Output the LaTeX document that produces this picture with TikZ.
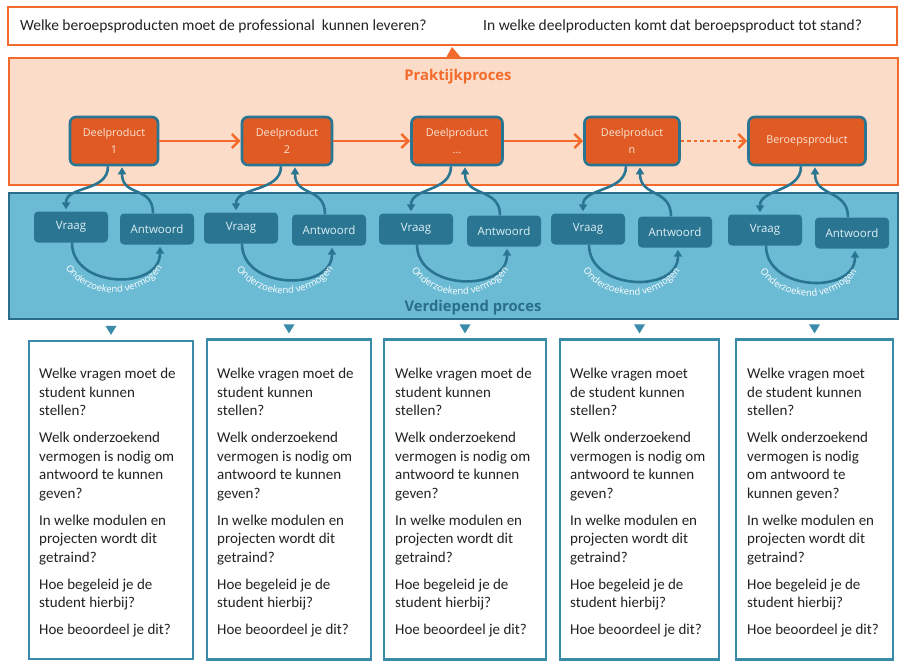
\documentclass[tikz,border=0pt]{standalone}
\usepackage{fontspec}
\setmainfont{Carlito}
\newfontfamily\osans{Open Sans}
\usetikzlibrary{arrows.meta,decorations.text,calc}
\definecolor{orgline}{HTML}{F26B2C}
\definecolor{peach}{HTML}{FBDCC9}
\definecolor{dpfill}{HTML}{E05B24}
\definecolor{tealdk}{HTML}{2A7592}
\definecolor{bandfill}{HTML}{6CBBD5}
\definecolor{bandline}{HTML}{2B6E89}
\definecolor{boxline}{HTML}{3A8BAA}
\definecolor{pale}{HTML}{FBE3D5}
\definecolor{palebl}{HTML}{DDF0F6}
\definecolor{txt}{HTML}{222222}
\newcommand\qsA{Welke vragen moet de\\student kunnen\\stellen?}
\newcommand\qsAb{Welke vragen moet\\de student kunnen\\stellen?}
\newcommand\qsB{Welk onderzoekend\\vermogen is nodig om\\antwoord te kunnen\\geven?}
\newcommand\qsBb{Welk onderzoekend\\vermogen is nodig\\om antwoord te\\kunnen geven?}
\newcommand\qsC{In welke modulen en\\projecten wordt dit\\getraind?\\[8.5pt]Hoe begeleid je de\\student hierbij?\\[8.5pt]Hoe beoordeel je dit?}
\begin{document}
\begin{tikzpicture}[x=1pt,y=1pt,
  topbox/.style={draw=orgline, line width=2pt, fill=white, minimum width=889pt, minimum height=38pt, inner sep=0},
  toptext/.style={font=\fontsize{15.5}{17}\selectfont, text=txt, inner sep=0},
  prakbox/.style={draw=orgline, line width=2pt, fill=peach, minimum width=889pt, minimum height=127pt, inner sep=0},
  bandbox/.style={draw=bandline, line width=2pt, fill=bandfill, minimum width=889pt, minimum height=126pt, inner sep=0},
  title/.style={font=\osans\bfseries\fontsize{14.8}{16}\selectfont, inner sep=0},
  dp/.style={draw=tealdk, line width=2.6pt, fill=dpfill, rounded corners=6pt, minimum height=48pt, text=pale, font=\osans\fontsize{10.8}{17.5}\selectfont, align=center, inner sep=0},
  qa/.style={fill=tealdk, rounded corners=4pt, minimum width=74pt, minimum height=31pt, text=palebl, font=\osans\fontsize{11.5}{13}\selectfont, inner sep=0},
  oarrow/.style={draw=orgline, line width=2.6pt, -{Straight Barb[length=7pt,width=14pt]}},
  lp/.style={draw=tealdk, line width=2.6pt, -{Triangle[length=7pt,width=8pt]}},
  qbox/.style={draw=boxline, line width=2.2pt, fill=white, inner sep=0},
  qtext/.style={anchor=north west, align=left, font=\fontsize{15}{18.5}\selectfont, text=txt, inner sep=0}
]
\useasboundingbox (0,0) rectangle (902,-661);
\fill[white] (0,0) rectangle (902,-661);
% top question bar
\node[topbox] (top) at (452,-26) {};
\node[toptext, anchor=west] (tq1) at (20,-26) {Welke beroepsproducten moet de professional\ \ kunnen leveren?};
\node[toptext, anchor=west] (tq2) at (483,-26) {In welke deelproducten komt dat beroepsproduct tot stand?};
% praktijkproces
\node[prakbox] (prak) at (453.5,-121.5) {};
\fill[orgline] ([xshift=-7pt]prak.north) -- ([xshift=7pt]prak.north) -- ([yshift=-1pt]top.south) -- cycle;
\node[title, text=orgline] (ptitle) at (458,-77) {Praktijkproces};
% verdiepend proces
\node[bandbox] (band) at (453.5,-256) {};
\node[title, text=bandline] (vtitle) at (473,-308) {Verdiepend proces};
% deelproducten
\node[dp, minimum width=88pt] (D1) at (114,-141) {Deelproduct\\1};
\node[dp, minimum width=90pt] (D2) at (287,-141) {Deelproduct\\2};
\node[dp, minimum width=91pt] (D3) at (457,-141) {Deelproduct\\\dots};
\node[dp, minimum width=95pt] (D4) at (632,-141) {Deelproduct\\n};
\node[dp, minimum width=117pt] (D5) at (807,-141) {Beroepsproduct};
\draw[oarrow] (D1.east) -- (D2.west);
\draw[oarrow] (D2.east) -- (D3.west);
\draw[oarrow] (D3.east) -- (D4.west);
\draw[oarrow, dash pattern=on 3.5pt off 3pt] (D4.east) -- (D5.west);
% vraag / antwoord
\node[qa] (V1) at (71,-227) {Vraag};
\node[qa] (A1) at (157,-229) {Antwoord};
\node[qa] (V2) at (241,-228) {Vraag};
\node[qa] (A2) at (329,-230) {Antwoord};
\node[qa] (V3) at (416,-229) {Vraag};
\node[qa] (A3) at (504,-231) {Antwoord};
\node[qa] (V4) at (588,-229) {Vraag};
\node[qa] (A4) at (675,-232) {Antwoord};
\node[qa] (V5) at (765,-230) {Vraag};
\node[qa] (A5) at (852,-233) {Antwoord};
\foreach \i in {1,...,5}{
  \draw[lp] ([xshift=-6pt]D\i.south) .. controls +(0,-26) and +(0,24) .. ([xshift=-5pt,yshift=2pt]V\i.north);
  \draw[lp] ([xshift=-4pt]A\i.north) .. controls +(0,28) and +(0,-30) .. ([xshift=8pt,yshift=-1pt]D\i.south);
  \draw[lp] ([xshift=1pt]V\i.south) .. controls +(0,-46) and +(0,-44) .. ([xshift=3pt,yshift=-2pt]A\i.south);
  \coordinate (C\i) at ($(V\i.south)!0.5!(A\i.south)+(0,3)$);
  \path[decorate, decoration={text along path, text align=center,
      text={|\osans\fontsize{9.5}{10}\selectfont\color{white}|Onderzoekend vermogen}}]
    ([shift={(195:57 and 52)}]C\i) arc[start angle=195, end angle=345, x radius=57, y radius=52];
}
% question boxes
\node[qbox, minimum width=164pt, minimum height=318pt] (Q1) at (111,-500) {};
\node[qbox, minimum width=164pt, minimum height=320pt] (Q2) at (289,-499.5) {};
\node[qbox, minimum width=162pt, minimum height=320pt] (Q3) at (465,-499.5) {};
\node[qbox, minimum width=159pt, minimum height=320pt] (Q4) at (639.5,-499.5) {};
\node[qbox, minimum width=157pt, minimum height=320pt] (Q5) at (814.5,-499.5) {};
\foreach \i in {1,...,5}{
  \fill[boxline] ($(Q\i.north)+(-5.5,14)$) -- ($(Q\i.north)+(5.5,14)$) -- ($(Q\i.north)+(0,5)$) -- cycle;
}
\node[qtext] (T1) at (39,-368) {\qsA\\[8.5pt]\qsB\\[8.5pt]\qsC};
\node[qtext] (T2) at (217,-368) {\qsA\\[8.5pt]\qsB\\[8.5pt]\qsC};
\node[qtext] (T3) at (395,-368) {\qsA\\[8.5pt]\qsB\\[8.5pt]\qsC};
\node[qtext] (T4) at (570,-368) {\qsAb\\[8.5pt]\qsB\\[8.5pt]\qsC};
\node[qtext] (T5) at (747,-368) {\qsAb\\[8.5pt]\qsBb\\[8.5pt]\qsC};
\end{tikzpicture}
\end{document}
